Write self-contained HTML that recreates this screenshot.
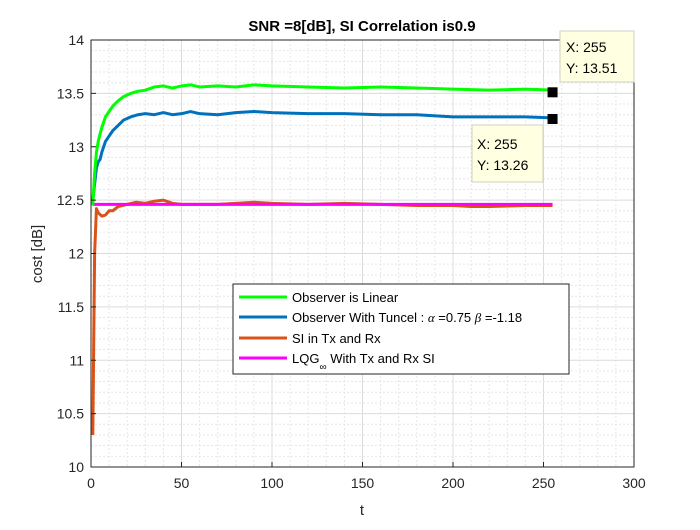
<!DOCTYPE html>
<html><head><meta charset="utf-8"><style>
body{margin:0;background:#fff;width:700px;height:525px;overflow:hidden}
svg{font-family:"Liberation Sans",sans-serif}
</style></head><body>
<svg id="chart" width="700" height="525">
<rect width="700" height="525" fill="#fff"/>
<rect x="91" y="40" width="543" height="427" fill="#fff" stroke="none"/>
<g id="grid"></g>
<g id="series"></g>
<rect x="91" y="40" width="543" height="427" fill="none" stroke="#262626" stroke-width="1"/>
<g id="ticks" font-size="14" fill="#262626"></g>
<text x="362" y="31" text-anchor="middle" font-size="15" font-weight="bold" fill="#000">SNR =8[dB], SI Correlation is0.9</text>
<text x="362" y="515" text-anchor="middle" font-size="15" fill="#262626">t</text>
<text transform="translate(42,254) rotate(-90)" text-anchor="middle" font-size="15" fill="#262626">cost [dB]</text>
<g>
<rect x="233" y="284" width="336" height="90" fill="#fff" stroke="#262626" stroke-width="1"/>
<line x1="239" y1="297" x2="287" y2="297" stroke="#00ff00" stroke-width="3"/>
<text x="292" y="302" font-size="13">Observer is Linear</text>
<line x1="239" y1="317" x2="287" y2="317" stroke="#0072bd" stroke-width="3"/>
<text x="292" y="322" font-size="13">Observer With Tuncel : <tspan font-family="Liberation Serif" font-style="italic">α</tspan> =0.75 <tspan font-family="Liberation Serif" font-style="italic">β</tspan> =-1.18</text>
<line x1="239" y1="338" x2="287" y2="338" stroke="#d95319" stroke-width="3"/>
<text x="292" y="343" font-size="13">SI in Tx and Rx</text>
<line x1="239" y1="358" x2="287" y2="358" stroke="#ff00ff" stroke-width="3"/>
<text x="292" y="363" font-size="13">LQG<tspan font-size="10" dy="7">∞</tspan><tspan dy="-7"> With Tx and Rx SI</tspan></text>
</g>
<g>
<rect x="560" y="31" width="74" height="51" fill="#ffffe1" stroke="#d0d0c0"/>
<text x="566" y="52" font-size="14">X: 255</text>
<text x="566" y="73" font-size="14">Y: 13.51</text>
</g>
<g>
<rect x="472" y="125" width="71" height="57" fill="#ffffe1" stroke="#d0d0c0"/>
<text x="477" y="149" font-size="14">X: 255</text>
<text x="477" y="170" font-size="14">Y: 13.26</text>
</g>
<g id="markers"></g>
</svg>
<script>
const xTicks=[0,50,100,150,200,250,300];
const yTicks=[10,10.5,11,11.5,12,12.5,13,13.5,14];
const tLinear=[1,2,3,4,5,6,8,10,12,15,18,22,26,30,35,40,45,50,55,60,70,80,90,100,120,140,160,180,200,220,240,255];
const vLinear=[12.45,12.75,12.95,13.05,13.12,13.18,13.28,13.33,13.38,13.43,13.47,13.5,13.52,13.53,13.56,13.57,13.55,13.57,13.58,13.56,13.57,13.56,13.58,13.57,13.56,13.55,13.56,13.55,13.54,13.53,13.54,13.53];
const tTuncel=[1,2,3,4,5,6,8,10,12,15,18,22,26,30,35,40,45,50,55,60,70,80,90,100,120,140,160,180,200,220,240,255];
const vTuncel=[12.5,12.65,12.8,12.86,12.88,12.95,13.05,13.1,13.15,13.2,13.25,13.28,13.3,13.31,13.3,13.32,13.3,13.31,13.33,13.31,13.3,13.32,13.33,13.32,13.31,13.31,13.3,13.3,13.28,13.28,13.28,13.27];
const tSI=[1,2,3,4,6,8,10,12,15,20,25,30,35,40,45,50,60,70,80,90,100,120,140,160,180,200,210,220,240,255];
const vSI=[10.3,12.0,12.42,12.38,12.35,12.36,12.4,12.4,12.44,12.46,12.48,12.47,12.49,12.5,12.47,12.46,12.46,12.46,12.47,12.48,12.47,12.46,12.47,12.46,12.45,12.45,12.44,12.44,12.45,12.45];
const tLQG=[1,255];
const vLQG=[12.46,12.46];
const tipX=[255,255];
const tipY=[13.51,13.26];
const X=t=>91+t*(543/300), Y=v=>467-(v-10)*(427/4);
const NS="http://www.w3.org/2000/svg";
const grid=document.getElementById('grid'),ticks=document.getElementById('ticks');
function ln(p,x1,y1,x2,y2,st,w,da){const l=document.createElementNS(NS,'line');l.setAttribute('x1',x1);l.setAttribute('y1',y1);l.setAttribute('x2',x2);l.setAttribute('y2',y2);l.setAttribute('stroke',st);l.setAttribute('stroke-width',w);if(da)l.setAttribute('stroke-dasharray',da);p.appendChild(l);return l;}
for(let t=0;t<=300;t+=10){const l=ln(grid,X(t),40,X(t),467,t%50?'#e6e6e6':'#dcdcdc',1,t%50?'2,2':null);

}
for(let v=10;v<=14.001;v+=0.1){const major=Math.abs(v*2-Math.round(v*2))<1e-6;const l=ln(grid,91,Y(v),634,Y(v),major?'#dcdcdc':'#e6e6e6',1,major?null:'2,2');

}
xTicks.forEach(t=>{ln(ticks,X(t),467,X(t),462,'#262626',1);const tx=document.createElementNS(NS,'text');tx.setAttribute('x',X(t));tx.setAttribute('y',488);tx.setAttribute('text-anchor','middle');tx.textContent=t;


ticks.appendChild(tx);});
yTicks.forEach(v=>{ln(ticks,91,Y(v),96,Y(v),'#262626',1);const tx=document.createElementNS(NS,'text');tx.setAttribute('x',84);tx.setAttribute('y',Y(v)+5);tx.setAttribute('text-anchor','end');tx.textContent=v;


ticks.appendChild(tx);});
const series=document.getElementById('series');
function line(ts,vs,col,name){const p=document.createElementNS(NS,'polyline');p.setAttribute('points',ts.map((t,i)=>X(t)+','+Y(vs[i])).join(' '));p.setAttribute('fill','none');p.setAttribute('stroke',col);p.setAttribute('stroke-width',3);p.setAttribute('stroke-linejoin','round');


series.appendChild(p);}
line(tSI,vSI,'#d95319','series-si');
line(tLQG,vLQG,'#ff00ff','series-lqg');
line(tTuncel,vTuncel,'#0072bd','series-tuncel');
line(tLinear,vLinear,'#00ff00','series-linear');
const mk=document.getElementById('markers');
tipX.forEach((t,i)=>{const r=document.createElementNS(NS,'rect');r.setAttribute('x',X(t)-5);r.setAttribute('y',Y(tipY[i])-5);r.setAttribute('width',10);r.setAttribute('height',10);r.setAttribute('fill','#000');


mk.appendChild(r);});
</script>
</body></html>
